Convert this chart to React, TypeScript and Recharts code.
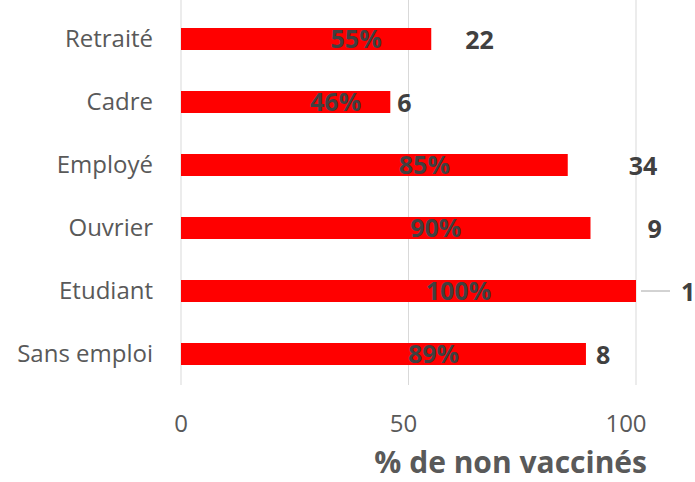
import React from 'react';
import { BarChart, Bar, XAxis, YAxis, CartesianGrid, LabelList, Label } from 'recharts';

const categories = ['Retraité', 'Cadre', 'Employé', 'Ouvrier', 'Etudiant', 'Sans emploi'];
const pctNonVaccines = [55, 46, 85, 90, 100, 89];
const effectifs = [22, 6, 34, 9, 1, 8];
const xTicks = [0, 50, 100];

// nudges of the count labels (they were dragged by hand in the original)
const countLabelGap = [34, 7, 61, 57, 45, 10];

const data = categories.map((c, i) => ({ cat: c, pct: pctNonVaccines[i], n: effectifs[i] }));

const FONT = '"Open Sans", sans-serif';
const GREY = '#595959';
const DARK = '#404040';

const PctLabel = (props: any) => {
  const { x, y, width, height, value } = props;
  return (
    <text x={x + width / 2 + 50} y={y + height / 2 - 1} textAnchor="middle" dominantBaseline="central"
      fontFamily={FONT} fontSize={25} fontWeight={700} fill={DARK}>
      {value}%
    </text>
  );
};

const CountLabel = (props: any) => {
  const { x, y, width, height, value, index } = props;
  const gap = countLabelGap[index];
  const end = x + width;
  const cy = y + height / 2;
  return (
    <g>
      {index === 4 && (
        <line x1={end + 5} x2={end + 34} y1={cy} y2={cy} stroke="#a6a6a6" strokeWidth={1} />
      )}
      <text x={end + gap} y={cy} textAnchor="start" dominantBaseline="central"
        fontFamily={FONT} fontSize={25} fontWeight={700} fill={DARK}>
        {value}
      </text>
    </g>
  );
};

const XTick = (props: any) => {
  const { x, y, payload, index } = props;
  return (
    <text x={x - index * 5} y={y} dy="0.71em" textAnchor="middle" fontFamily={FONT} fontSize={24} fill={GREY}>
      {payload.value}
    </text>
  );
};

const App = () => {
  return (
    <div style={{ position: 'absolute', left: 0, top: 0, width: 695, height: 482, background: '#fff' }}>
      <BarChart width={695} height={482} data={data} layout="vertical"
        margin={{ top: 0, right: 59, bottom: 0, left: 0 }}>
        <CartesianGrid horizontal={false} vertical={true} stroke="#d9d9d9" />
        <XAxis type="number" domain={[0, 100]} ticks={xTicks} axisLine={false} tickLine={false}
          tickSize={0} tickMargin={30} height={97} tick={XTick}>
          <Label content={(p: any) => {
            const vb = p.viewBox;
            return (
              <text x={vb.x + vb.width + 11} y={vb.y + vb.height - 9} textAnchor="end"
                fontFamily={FONT} fontSize={30} fontWeight={700} fill={GREY}>
                % de non vaccinés
              </text>
            );
          }} />
        </XAxis>
        <YAxis type="category" dataKey="cat" width={181} axisLine={false} tickLine={false}
          tickSize={0} tickMargin={28} padding={{ top: 7, bottom: 0 }}
          tick={{ fontFamily: FONT, fontSize: 24, fill: GREY }} />
        <Bar dataKey="pct" fill="#ff0000" barSize={22} isAnimationActive={false}>
          <LabelList dataKey="pct" content={PctLabel} />
          <LabelList dataKey="n" content={CountLabel} />
        </Bar>
      </BarChart>
    </div>
  );
};

export default App;
